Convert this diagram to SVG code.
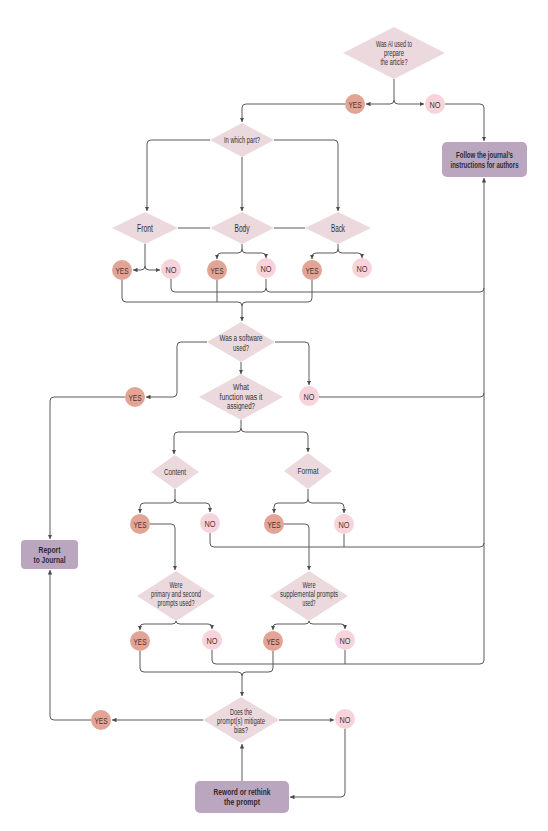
<svg xmlns="http://www.w3.org/2000/svg" width="548" height="831" viewBox="0 0 548 831">
<style>
.dia{fill:#ebd9dd;stroke:none}
.yes{fill:#e2a494}
.no{fill:#f7d4db}
.box{fill:#baa6bf}
.t{font-family:"Liberation Sans","DejaVu Sans",sans-serif;fill:#333333;text-anchor:middle;font-size:8.5px}
.tl{font-size:10px}
.tc{font-size:9.5px;fill:#4a3330}
.tb{font-weight:bold;font-size:8.5px;fill:#2e2a30}
.ln{fill:none;stroke:#5a5a5a;stroke-width:1}
</style>
<defs>
<marker id="arr" viewBox="0 0 5 5" refX="5" refY="2.5" markerWidth="4.5" markerHeight="4.5" markerUnits="userSpaceOnUse" orient="auto">
<path d="M0,0 L5,2.5 L0,5 z" fill="#4a4a4a"/>
</marker>
</defs>
<rect width="548" height="831" fill="#ffffff"/>

<g id="connectors">
<path class="ln" d="M394,79 V100 Q394,104 390,104 H366" marker-end="url(#arr)"/>
<path class="ln" d="M394,100 Q394,104 398,104 H424" marker-end="url(#arr)"/>
<path class="ln" d="M345,104 H246 Q242,104 242,108 V122" marker-end="url(#arr)"/>
<path class="ln" d="M445,104 H480 Q484,104 484,108 V141" marker-end="url(#arr)"/>
<path class="ln" d="M210,140 H151 Q147,140 147,144 V211" marker-end="url(#arr)"/>
<path class="ln" d="M242,157 V211" marker-end="url(#arr)"/>
<path class="ln" d="M274,140 H334 Q338,140 338,144 V211" marker-end="url(#arr)"/>
<path class="ln" d="M178,228 H210 M274,228 H305"/>
<path class="ln" d="M145,244 V266 Q145,270 141,270 H133" marker-end="url(#arr)"/>
<path class="ln" d="M145,266 Q145,270 149,270 H160" marker-end="url(#arr)"/>
<path class="ln" d="M242,244 V249 Q242,253 238,253 H221 Q217,253 217,257 V259" marker-end="url(#arr)"/>
<path class="ln" d="M242,249 Q242,253 246,253 H262 Q266,253 266,257 V258" marker-end="url(#arr)"/>
<path class="ln" d="M338,244 V249 Q338,253 334,253 H316 Q312,253 312,257 V259" marker-end="url(#arr)"/>
<path class="ln" d="M338,249 Q338,253 342,253 H358 Q362,253 362,257 V258" marker-end="url(#arr)"/>
<path class="ln" d="M122,280 V298 Q122,302 126,302 H238 Q242,302 242,306"/>
<path class="ln" d="M312,280 V298 Q312,302 308,302 H246 Q242,302 242,306 V321" marker-end="url(#arr)"/>
<path class="ln" d="M217,280 V302"/>
<path class="ln" d="M171,279 V288 Q171,292 175,292 H262 Q266,292 266,288 V279"/>
<path class="ln" d="M266,288 Q266,292 270,292 H480 Q484,292 484,288"/>
<path class="ln" d="M484,660 V178" marker-end="url(#arr)"/>
<path class="ln" d="M207,342 H181 Q177,342 177,346 V393 Q177,397 173,397 H146" marker-end="url(#arr)"/>
<path class="ln" d="M275,342 H305 Q309,342 309,346 V385" marker-end="url(#arr)"/>
<path class="ln" d="M241,362 V374" marker-end="url(#arr)"/>
<path class="ln" d="M319,397 H480 Q484,397 484,393"/>
<path class="ln" d="M125,397 H54 Q50,397 50,401 V539" marker-end="url(#arr)"/>
<path class="ln" d="M241,420 V428 Q241,432 237,432 H178 Q174,432 174,436 V454" marker-end="url(#arr)"/>
<path class="ln" d="M241,428 Q241,432 245,432 H304 Q308,432 308,436 V452" marker-end="url(#arr)"/>
<path class="ln" d="M175,489 V499 Q175,503 171,503 H144 Q140,503 140,507 V513" marker-end="url(#arr)"/>
<path class="ln" d="M175,499 Q175,503 179,503 H206 Q210,503 210,507 V512" marker-end="url(#arr)"/>
<path class="ln" d="M308,489 V499 Q308,503 304,503 H278 Q274,503 274,507 V513" marker-end="url(#arr)"/>
<path class="ln" d="M308,499 Q308,503 312,503 H340 Q344,503 344,507 V513" marker-end="url(#arr)"/>
<path class="ln" d="M150,524 H171 Q175,524 175,528 V570" marker-end="url(#arr)"/>
<path class="ln" d="M284,524 H305 Q309,524 309,528 V570" marker-end="url(#arr)"/>
<path class="ln" d="M210,533 V543 Q210,547 214,547 H480 Q484,547 484,543"/>
<path class="ln" d="M344,534 V547"/>
<path class="ln" d="M176,621 Q176,624 172,624 H144 Q140,624 140,627 V630" marker-end="url(#arr)"/>
<path class="ln" d="M176,621 Q176,624 180,624 H208 Q212,624 212,627 V629" marker-end="url(#arr)"/>
<path class="ln" d="M309,621 Q309,624 305,624 H277 Q273,624 273,627 V630" marker-end="url(#arr)"/>
<path class="ln" d="M309,621 Q309,624 313,624 H341 Q345,624 345,627 V629" marker-end="url(#arr)"/>
<path class="ln" d="M140,651 V668 Q140,672 144,672 H238 Q242,672 242,676"/>
<path class="ln" d="M273,651 V668 Q273,672 269,672 H246 Q242,672 242,676 V696" marker-end="url(#arr)"/>
<path class="ln" d="M212,650 V660 Q212,664 216,664 H480 Q484,664 484,660"/>
<path class="ln" d="M345,650 V664"/>
<path class="ln" d="M203,720 H112" marker-end="url(#arr)"/>
<path class="ln" d="M91,720 H54 Q50,720 50,716 V570" marker-end="url(#arr)"/>
<path class="ln" d="M279,720 H334" marker-end="url(#arr)"/>
<path class="ln" d="M345,729 V793 Q345,797 341,797 H290" marker-end="url(#arr)"/>
<path class="ln" d="M242,781 V744" marker-end="url(#arr)"/>
</g>

<g id="q-ai">
<polygon class="dia" points="394,27 445,53 394,79 343,53"/>
<text class="t" x="394" y="47" textLength="36" lengthAdjust="spacingAndGlyphs">Was AI used to</text>
<text class="t" x="394" y="56" textLength="20" lengthAdjust="spacingAndGlyphs">prepare</text>
<text class="t" x="394" y="65" textLength="27" lengthAdjust="spacingAndGlyphs">the article?</text>
</g>
<g id="ai-yes"><circle class="yes" cx="355" cy="104" r="10"/><text class="t tc" x="355" y="107.5" textLength="13" lengthAdjust="spacingAndGlyphs">YES</text></g>
<g id="ai-no"><circle class="no" cx="435" cy="104" r="10"/><text class="t tc" x="435" y="107.5" textLength="11" lengthAdjust="spacingAndGlyphs">NO</text></g>
<g id="follow">
<rect class="box" x="442" y="142" width="85" height="35" rx="5"/>
<text class="t tb" x="484.5" y="158" textLength="57" lengthAdjust="spacingAndGlyphs">Follow the journal’s</text>
<text class="t tb" x="484.5" y="167.5" textLength="68" lengthAdjust="spacingAndGlyphs">instructions for authors</text>
</g>

<g id="q-part">
<polygon class="dia" points="242,123 274,140 242,157 210,140"/>
<text class="t" x="242" y="143" textLength="36" lengthAdjust="spacingAndGlyphs">In which part?</text>
</g>
<g id="front">
<polygon class="dia" points="145,212 178,228 145,244 112,228"/>
<text class="t tl" x="145" y="231.5" textLength="16" lengthAdjust="spacingAndGlyphs">Front</text>
</g>
<g id="body">
<polygon class="dia" points="242,212 274,228 242,244 210,228"/>
<text class="t tl" x="242" y="231.5" textLength="15" lengthAdjust="spacingAndGlyphs">Body</text>
</g>
<g id="back">
<polygon class="dia" points="338,212 371,228 338,244 305,228"/>
<text class="t tl" x="338" y="231.5" textLength="14" lengthAdjust="spacingAndGlyphs">Back</text>
</g>
<g id="front-yes"><circle class="yes" cx="122" cy="270" r="10"/><text class="t tc" x="122" y="273.5" textLength="13" lengthAdjust="spacingAndGlyphs">YES</text></g>
<g id="front-no"><circle class="no" cx="171" cy="269" r="10"/><text class="t tc" x="171" y="272.5" textLength="11" lengthAdjust="spacingAndGlyphs">NO</text></g>
<g id="body-yes"><circle class="yes" cx="217" cy="270" r="10"/><text class="t tc" x="217" y="273.5" textLength="13" lengthAdjust="spacingAndGlyphs">YES</text></g>
<g id="body-no"><circle class="no" cx="266" cy="268" r="10"/><text class="t tc" x="266" y="271.5" textLength="11" lengthAdjust="spacingAndGlyphs">NO</text></g>
<g id="back-yes"><circle class="yes" cx="312" cy="270" r="10"/><text class="t tc" x="312" y="273.5" textLength="13" lengthAdjust="spacingAndGlyphs">YES</text></g>
<g id="back-no"><circle class="no" cx="362" cy="268" r="10"/><text class="t tc" x="362" y="271.5" textLength="11" lengthAdjust="spacingAndGlyphs">NO</text></g>

<g id="q-software">
<polygon class="dia" points="241,322 275,342 241,362 207,342"/>
<text class="t" x="241" y="341" textLength="43" lengthAdjust="spacingAndGlyphs">Was a software</text>
<text class="t" x="241" y="350.5" textLength="16" lengthAdjust="spacingAndGlyphs">used?</text>
</g>
<g id="sw-yes"><circle class="yes" cx="135" cy="397" r="10"/><text class="t tc" x="135" y="400.5" textLength="13" lengthAdjust="spacingAndGlyphs">YES</text></g>
<g id="sw-no"><circle class="no" cx="309" cy="396" r="10"/><text class="t tc" x="309" y="399.5" textLength="11" lengthAdjust="spacingAndGlyphs">NO</text></g>
<g id="q-function">
<polygon class="dia" points="241,374 283,397 241,420 199,397"/>
<text class="t" x="241" y="390" textLength="16" lengthAdjust="spacingAndGlyphs">What</text>
<text class="t" x="241" y="399.5" textLength="43" lengthAdjust="spacingAndGlyphs">function  was it</text>
<text class="t" x="241" y="409" textLength="28" lengthAdjust="spacingAndGlyphs">assigned?</text>
</g>
<g id="report">
<rect class="box" x="21" y="540" width="57" height="29" rx="4"/>
<text class="t tb" x="49.5" y="553" textLength="22" lengthAdjust="spacingAndGlyphs">Report</text>
<text class="t tb" x="49.5" y="562.5" textLength="32" lengthAdjust="spacingAndGlyphs">to Journal</text>
</g>

<g id="content">
<polygon class="dia" points="175,455 199,472 175,489 151,472"/>
<text class="t" x="175" y="475" textLength="22" lengthAdjust="spacingAndGlyphs">Content</text>
</g>
<g id="format">
<polygon class="dia" points="308,453 332,471 308,489 284,471"/>
<text class="t" x="308" y="474" textLength="21" lengthAdjust="spacingAndGlyphs">Format</text>
</g>
<g id="content-yes"><circle class="yes" cx="140" cy="524" r="10"/><text class="t tc" x="140" y="527.5" textLength="13" lengthAdjust="spacingAndGlyphs">YES</text></g>
<g id="content-no"><circle class="no" cx="210" cy="523" r="10"/><text class="t tc" x="210" y="526.5" textLength="11" lengthAdjust="spacingAndGlyphs">NO</text></g>
<g id="format-yes"><circle class="yes" cx="274" cy="524" r="10"/><text class="t tc" x="274" y="527.5" textLength="13" lengthAdjust="spacingAndGlyphs">YES</text></g>
<g id="format-no"><circle class="no" cx="344" cy="524" r="10"/><text class="t tc" x="344" y="527.5" textLength="11" lengthAdjust="spacingAndGlyphs">NO</text></g>

<g id="q-primary">
<polygon class="dia" points="176,571 215,596 176,621 137,596"/>
<text class="t" x="176" y="588" textLength="13" lengthAdjust="spacingAndGlyphs">Were</text>
<text class="t" x="176" y="597" textLength="50" lengthAdjust="spacingAndGlyphs">primary and second</text>
<text class="t" x="176" y="606" textLength="37" lengthAdjust="spacingAndGlyphs">prompts used?</text>
</g>
<g id="q-supplemental">
<polygon class="dia" points="309,571 348,596 309,621 270,596"/>
<text class="t" x="309" y="588" textLength="13" lengthAdjust="spacingAndGlyphs">Were</text>
<text class="t" x="309" y="597" textLength="58" lengthAdjust="spacingAndGlyphs">supplemental prompts</text>
<text class="t" x="309" y="606" textLength="13" lengthAdjust="spacingAndGlyphs">used?</text>
</g>
<g id="primary-yes"><circle class="yes" cx="140" cy="641" r="10"/><text class="t tc" x="140" y="644.5" textLength="13" lengthAdjust="spacingAndGlyphs">YES</text></g>
<g id="primary-no"><circle class="no" cx="212" cy="640" r="10"/><text class="t tc" x="212" y="643.5" textLength="11" lengthAdjust="spacingAndGlyphs">NO</text></g>
<g id="supp-yes"><circle class="yes" cx="273" cy="641" r="10"/><text class="t tc" x="273" y="644.5" textLength="13" lengthAdjust="spacingAndGlyphs">YES</text></g>
<g id="supp-no"><circle class="no" cx="345" cy="640" r="10"/><text class="t tc" x="345" y="643.5" textLength="11" lengthAdjust="spacingAndGlyphs">NO</text></g>

<g id="q-bias">
<polygon class="dia" points="241,697 279,720 241,743 203,720"/>
<text class="t" x="241" y="715" textLength="22" lengthAdjust="spacingAndGlyphs">Does the</text>
<text class="t" x="241" y="724" textLength="48" lengthAdjust="spacingAndGlyphs">prompt(s) mitigate</text>
<text class="t" x="241" y="733" textLength="14" lengthAdjust="spacingAndGlyphs">bias?</text>
</g>
<g id="bias-yes"><circle class="yes" cx="101" cy="720" r="10"/><text class="t tc" x="101" y="723.5" textLength="13" lengthAdjust="spacingAndGlyphs">YES</text></g>
<g id="bias-no"><circle class="no" cx="345" cy="719" r="10"/><text class="t tc" x="345" y="722.5" textLength="11" lengthAdjust="spacingAndGlyphs">NO</text></g>
<g id="reword">
<rect class="box" x="195" y="781" width="94" height="32" rx="5"/>
<text class="t tb" x="242" y="795" textLength="57" lengthAdjust="spacingAndGlyphs">Reword or rethink</text>
<text class="t tb" x="242" y="804.5" textLength="36" lengthAdjust="spacingAndGlyphs">the prompt</text>
</g>
</svg>
